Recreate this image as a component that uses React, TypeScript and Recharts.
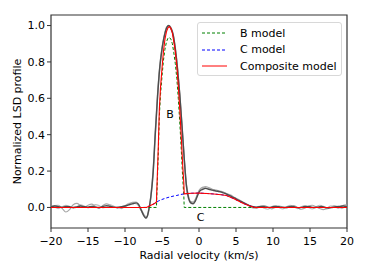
import { LineChart, Line, XAxis, YAxis, ReferenceArea, ReferenceDot, Label } from 'recharts';

// observed LSD profiles (x = radial velocity km/s)
const obsDarkX = [-20, -19.5, -19, -18.5, -18, -17.5, -17, -16.5, -16, -15.5, -15, -14.5, -14, -13.5, -13, -12.5, -12, -11.5, -11, -10.5, -10, -9.5, -9, -8.5, -8.2, -7.8, -7.5, -7.2, -7.0, -6.8, -6.5, -6.2, -5.9, -5.6, -5.3, -5.0, -4.7, -4.4, -4.1, -3.8, -3.5, -3.2, -2.9, -2.6, -2.3, -2.0, -1.7, -1.4, -1.1, -0.8, -0.5, -0.2, 0.1, 0.5, 0.9, 1.3, 1.8, 2.3, 2.8, 3.3, 3.8, 4.3, 4.8, 5.3, 5.8, 6.3, 6.8, 7.3, 7.8, 8.5, 9, 9.5, 10, 10.5, 11, 11.5, 12, 12.5, 13, 13.5, 14, 14.5, 15, 15.5, 16, 16.5, 17, 17.5, 18, 18.5, 19, 19.5, 20];
const obsDarkY = [0.005, 0.008, 0.004, 0.0, 0.006, 0.004, 0.0, 0.003, 0.008, 0.004, 0.002, 0.006, 0.002, 0.0, 0.005, 0.01, 0.006, 0.002, 0.0, 0.004, 0.008, 0.014, 0.02, 0.025, 0.018, -0.015, -0.042, -0.058, -0.05, -0.015, 0.06, 0.19, 0.41, 0.61, 0.77, 0.87, 0.94, 0.985, 1.0, 0.985, 0.95, 0.87, 0.76, 0.62, 0.45, 0.27, 0.12, 0.05, 0.025, 0.02, 0.035, 0.065, 0.09, 0.1, 0.105, 0.1, 0.095, 0.09, 0.087, 0.08, 0.072, 0.062, 0.052, 0.04, 0.03, 0.02, 0.01, 0.004, 0.002, 0.006, 0.003, 0.0, 0.004, 0.006, 0.002, 0.0, 0.003, 0.006, 0.002, -0.002, 0.002, 0.006, 0.004, 0.0, 0.002, 0.005, 0.001, -0.003, 0.0, 0.004, 0.006, 0.008, 0.005];

const obsLightX = [-20, -19.5, -19, -18.5, -18, -17.5, -17, -16.5, -16, -15.5, -15, -14.5, -14, -13.5, -13, -12.5, -12, -11.5, -11, -10.5, -10, -9.5, -9, -8.5, -8.2, -7.8, -7.4, -7.1, -6.8, -6.5, -6.2, -5.9, -5.6, -5.3, -5.0, -4.7, -4.4, -4.1, -3.8, -3.5, -3.2, -2.9, -2.6, -2.3, -2.0, -1.7, -1.4, -1.1, -0.8, -0.5, -0.2, 0.1, 0.5, 0.9, 1.3, 1.8, 2.3, 2.8, 3.3, 3.8, 4.3, 4.8, 5.3, 5.8, 6.3, 6.8, 7.3, 7.8, 8.3, 8.8, 9.3, 9.8, 10.3, 10.8, 11.3, 11.8, 12.3, 12.8, 13.3, 13.8, 14.3, 14.8, 15.3, 15.8, 16.3, 16.8, 17.3, 17.8, 18.3, 18.8, 19.3, 19.8, 20];
const obsLight1Y = [0.0, 0.01, 0.012, -0.005, -0.025, -0.012, 0.015, 0.022, 0.01, 0.0, 0.012, 0.018, 0.005, -0.005, 0.01, 0.02, 0.012, 0.0, 0.002, -0.006, 0.005, 0.018, 0.028, 0.03, 0.02, -0.012, -0.042, -0.052, -0.015, 0.07, 0.21, 0.43, 0.63, 0.78, 0.88, 0.945, 0.99, 1.0, 0.99, 0.955, 0.88, 0.77, 0.63, 0.46, 0.28, 0.13, 0.06, 0.032, 0.03, 0.045, 0.075, 0.1, 0.11, 0.115, 0.11, 0.1, 0.095, 0.09, 0.085, 0.075, 0.068, 0.055, 0.045, 0.033, 0.022, 0.01, 0.0, -0.005, 0.005, 0.01, 0.002, -0.008, 0.0, 0.008, 0.004, -0.004, 0.006, 0.01, 0.0, -0.01, -0.004, 0.008, 0.012, 0.004, -0.006, -0.012, -0.004, 0.008, 0.006, -0.004, 0.008, 0.014, 0.012];
const obsLight2Y = [0.008, 0.002, -0.006, 0.004, 0.012, 0.006, -0.004, 0.002, 0.014, 0.008, -0.002, 0.004, 0.016, 0.01, -0.002, 0.004, 0.014, 0.006, -0.004, 0.002, 0.01, 0.022, 0.024, 0.02, 0.01, -0.02, -0.05, -0.06, -0.025, 0.05, 0.18, 0.4, 0.6, 0.76, 0.865, 0.935, 0.98, 0.995, 0.98, 0.945, 0.865, 0.755, 0.61, 0.44, 0.26, 0.11, 0.045, 0.024, 0.025, 0.04, 0.07, 0.095, 0.112, 0.108, 0.102, 0.098, 0.092, 0.086, 0.082, 0.074, 0.064, 0.054, 0.042, 0.03, 0.02, 0.008, -0.004, 0.002, 0.008, -0.004, -0.01, 0.004, 0.01, 0.0, -0.008, 0.002, 0.012, 0.004, -0.006, 0.004, 0.01, 0.0, -0.008, 0.002, 0.012, 0.006, -0.008, -0.002, 0.01, 0.004, -0.006, 0.006, 0.01];

// B model (green dashed)
const bModelX = [-7.5, -5.75, -5.72, -5.5, -5.36, -5.2, -5.0, -4.8, -4.6, -4.4, -4.2, -4.0, -3.8, -3.6, -3.4, -3.2, -3.0, -2.8, -2.6, -2.4, -2.2, -2.05, -2.0, 7.5];
const bModelY = [0, 0, 0.04, 0.3, 0.5, 0.62, 0.72, 0.81, 0.87, 0.91, 0.93, 0.935, 0.925, 0.9, 0.85, 0.79, 0.71, 0.6, 0.47, 0.32, 0.16, 0.065, 0, 0];

// C model (blue dashed)
const cModelX = [-7.5, -7.1, -6.5, -6.0, -5.5, -5.0, -4.5, -4.0, -3.5, -3.0, -2.5, -2.0, -1.0, 0, 1, 2, 3, 3.7, 4.6, 5, 6, 7, 7.5];
const cModelY = [0, 0, 0.012, 0.022, 0.035, 0.044, 0.051, 0.057, 0.062, 0.066, 0.071, 0.075, 0.078, 0.079, 0.077, 0.074, 0.07, 0.066, 0.05, 0.042, 0.022, 0.007, 0];

// composite model (red)
const compX = [-20, -7.1, -6.5, -6.0, -5.75, -5.72, -5.5, -5.36, -5.2, -5.0, -4.8, -4.6, -4.4, -4.2, -4.0, -3.8, -3.6, -3.4, -3.2, -3.0, -2.8, -2.6, -2.4, -2.2, -2.05, -2.0, -1.0, 0, 1, 2, 3, 3.7, 4.6, 5, 6, 7, 7.5, 20];
const compY = [0, 0, 0.012, 0.022, 0.03, 0.07, 0.335, 0.54, 0.66, 0.765, 0.86, 0.925, 0.965, 0.988, 0.995, 0.985, 0.96, 0.91, 0.855, 0.776, 0.67, 0.54, 0.39, 0.23, 0.135, 0.075, 0.078, 0.079, 0.077, 0.074, 0.07, 0.066, 0.05, 0.042, 0.022, 0.007, 0, 0];

const xTicks = [-20, -15, -10, -5, 0, 5, 10, 15, 20];
const yTicks = [0, 0.2, 0.4, 0.6, 0.8, 1.0];

const legendItems = [
  { name: 'B model', color: 'green', dash: true },
  { name: 'C model', color: 'blue', dash: true },
  { name: 'Composite model', color: 'red', dash: false },
];

const zip = (xs: number[], ys: number[]) => xs.map((x, i) => ({ x, y: ys[i] }));

const FONT = '"DejaVu Sans", sans-serif';
const tickStyle = { fontSize: 11, fill: '#000', fontFamily: FONT };

export default function App() {
  return (
    <div style={{ position: 'absolute', left: 0, top: 0, width: 368, height: 273, background: '#fff', fontFamily: FONT }}>
      <LineChart width={368} height={273} margin={{ top: 15, right: 21, bottom: 0, left: 0 }}>
        <XAxis
          type="number"
          dataKey="x"
          domain={[-20, 20]}
          ticks={xTicks}
          allowDataOverflow
          axisLine={false}
          tickLine={{ stroke: '#333' }}
          tickSize={4}
          tickMargin={5}
          height={45}
          tick={tickStyle}
          tickFormatter={(v: number) => String(v).replace('-', '\u2212')}
        >
          <Label value="Radial velocity (km/s)" position="insideBottom" offset={14} style={{ fontSize: 11, fill: '#000', fontFamily: FONT }} />
        </XAxis>
        <YAxis
          type="number"
          domain={[-0.113, 1.058]}
          ticks={yTicks}
          allowDataOverflow
          axisLine={false}
          tickLine={{ stroke: '#333' }}
          tickSize={4}
          tickMargin={2}
          width={51}
          tick={tickStyle}
          tickFormatter={(v: number) => v.toFixed(1)}
        >
          <Label value="Normalized LSD profile" angle={-90} position="insideLeft" offset={17} style={{ fontSize: 11, fill: '#000', fontFamily: FONT, textAnchor: 'middle' }} />
        </YAxis>
        <Line data={zip(obsLightX, obsLight2Y)} dataKey="y" type="monotone" stroke="#bdbdbd" strokeWidth={1.2} dot={false} isAnimationActive={false} />
        <Line data={zip(obsLightX, obsLight1Y)} dataKey="y" type="monotone" stroke="#a8a8a8" strokeWidth={1.2} dot={false} isAnimationActive={false} />
        <Line data={zip(obsDarkX, obsDarkY)} dataKey="y" type="monotone" stroke="#4d4d4d" strokeWidth={1.4} dot={false} isAnimationActive={false} />
        <Line data={zip(bModelX, bModelY)} dataKey="y" type="linear" stroke="green" strokeWidth={1} strokeDasharray="3 2" dot={false} isAnimationActive={false} />
        <Line data={zip(cModelX, cModelY)} dataKey="y" type="linear" stroke="blue" strokeWidth={1} strokeDasharray="3 2" dot={false} isAnimationActive={false} />
        <Line data={zip(compX, compY)} dataKey="y" type="linear" stroke="red" strokeWidth={1.1} dot={false} isAnimationActive={false} />
        <ReferenceDot x={-3.9} y={0.515} r={0} fill="none" stroke="none" label={{ value: 'B', position: 'center', fontSize: 11, fill: '#000' }} />
        <ReferenceDot x={0.2} y={-0.053} r={0} fill="none" stroke="none" label={{ value: 'C', position: 'center', fontSize: 11, fill: '#000' }} />
        <ReferenceArea x1={-20} x2={20} y1={-0.113} y2={1.058} fill="none" stroke="#333" strokeWidth={1.2} />
      </LineChart>
      <div
        style={{
          position: 'absolute',
          left: 197,
          top: 22,
          width: 145,
          height: 54,
          boxSizing: 'border-box',
          border: '1px solid #d8d8d8',
          borderRadius: 3,
          background: 'rgba(255,255,255,0.8)',
          fontSize: 11,
          color: '#000',
        }}
      >
        {legendItems.map((it, i) => (
          <div key={it.name} style={{ position: 'absolute', left: 4, top: 3 + i * 16.5, height: 14, display: 'flex', alignItems: 'center' }}>
            <svg width={25} height={4} style={{ marginRight: 13 }}>
              <line x1={0} y1={2} x2={25} y2={2} stroke={it.color} strokeWidth={1} strokeDasharray={it.dash ? '3 2' : undefined} />
            </svg>
            <span style={{ whiteSpace: 'nowrap' }}>{it.name}</span>
          </div>
        ))}
      </div>
    </div>
  );
}
